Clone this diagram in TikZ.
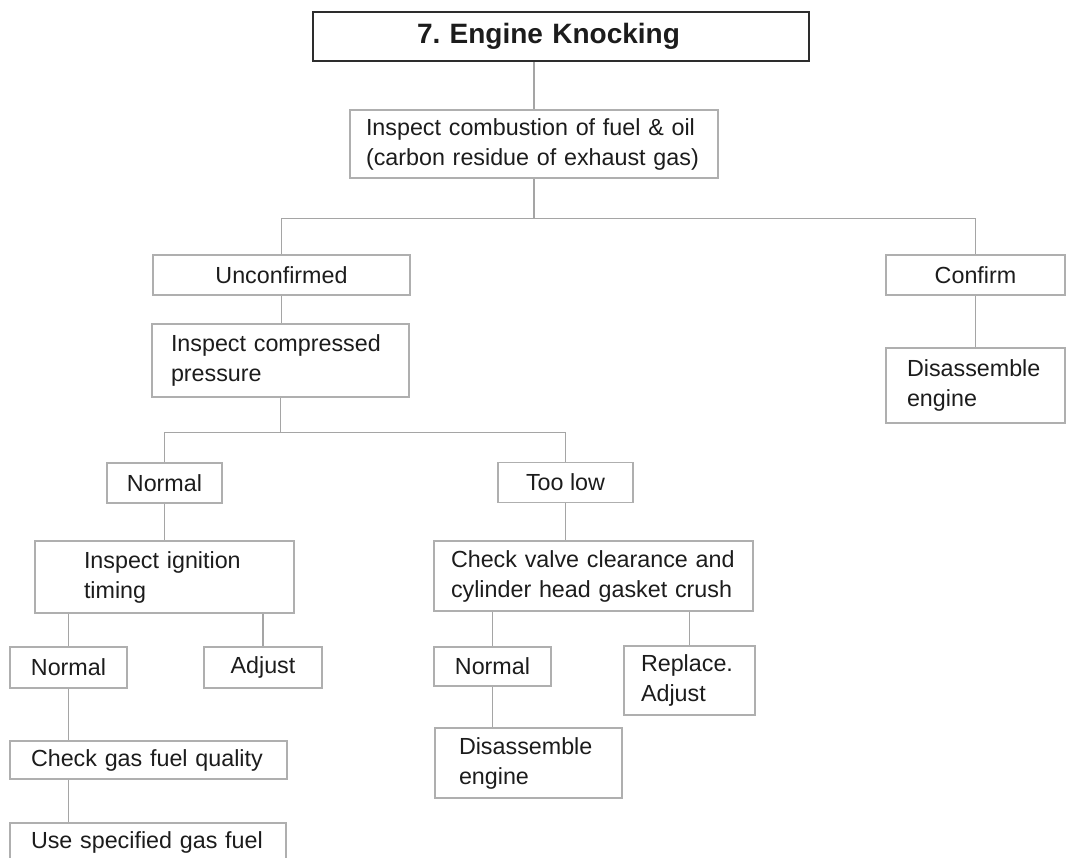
\documentclass[tikz,border=0pt]{standalone}
\usepackage{fontspec}
\setmainfont{Liberation Sans}
\usetikzlibrary{positioning}
\definecolor{BoxGray}{RGB}{175,175,175}
\definecolor{LineGray}{RGB}{165,165,165}
\definecolor{TitleGray}{RGB}{45,45,45}
\definecolor{TextGray}{RGB}{28,28,28}
\frenchspacing

\begin{document}
\begin{tikzpicture}[x=1pt, y=-1pt,
    box/.style={draw=BoxGray, line width=1.3pt, text=TextGray, inner ysep=0pt, font=\fontsize{23.3}{30}\selectfont},
    cbox/.style={box, align=center, inner xsep=0pt},
    lbox/.style 2 args={box, align=left, inner xsep=#1, text width=#2},
    link/.style={draw=LineGray, line width=1.3pt}]
          \useasboundingbox (0,0) rectangle (1069,858);
          \clip (0,0) rectangle (1069,858);
          \node[lbox={104pt}{288pt}, draw=TitleGray, line width=2.5pt, minimum height=49pt, font=\fontsize{28}{32}\selectfont\bfseries] (title) at (561,36.5) {7. Engine Knocking};
          \node[lbox={16pt}{336pt}, minimum height=68pt] (comb) at (534,144) {Inspect combustion of fuel \& oil\\(carbon residue of exhaust gas)};
          \node[cbox, minimum width=257pt, minimum height=40pt] (unconf) at (281.5,275) {Unconfirmed};
          \node[cbox, minimum width=179pt, minimum height=40pt] (confirm) at (975.5,275) {Confirm};
          \node[lbox={21pt}{137pt}, minimum height=75pt] (disR) at (975.5,385.5) {Disassemble\\engine};
          \node[lbox={19pt}{219pt}, minimum height=73pt] (press) at (280.5,360.5) {Inspect compressed\\pressure};
          \node[cbox, minimum width=115pt, minimum height=40pt] (normB) at (164.5,483) {Normal};
          \node[cbox, minimum width=135pt, minimum height=40pt] (toolow) at (565.5,482.5) {Too low};
          \node[lbox={49pt}{161pt}, minimum height=72pt] (ign) at (164.5,577) {Inspect ignition\\timing};
          \node[cbox, minimum width=117pt, minimum height=41pt] (normA) at (68.5,667.5) {Normal};
          \node[cbox, minimum width=118pt, minimum height=41pt] (adj) at (263,667.5) {Adjust};
          \node[lbox={21pt}{235pt}, minimum height=38pt] (gas) at (148.5,760) {Check gas fuel quality};
          \node[lbox={21pt}{234pt}, minimum height=38pt] (use) at (148,842) {Use specified gas fuel};
          \node[lbox={17pt}{285pt}, minimum height=70pt] (valve) at (593.5,576) {Check valve clearance and\\cylinder head gasket crush};
          \node[cbox, minimum width=117pt, minimum height=39pt] (normM) at (492.5,666.5) {Normal};
          \node[lbox={17pt}{97pt}, minimum height=69pt] (repl) at (689.5,680.5) {Replace.\\Adjust};
          \node[lbox={24pt}{139pt}, minimum height=70pt] (disM) at (528.5,763) {Disassemble\\engine};
          \draw[link] (title.south -| comb.north) -- (comb.north);
          \draw[link] (comb.south) -- ++(0,40) coordinate (j1);
          \draw[link] (unconf.north) |- (j1) -| (confirm.north);
          \draw[link] (confirm.south) -- (disR.north);
          \draw[link] (unconf.south) -- (unconf.south |- press.north);
          \draw[link] (press.south) -- ++(0,35) coordinate (j2);
          \draw[link] (normB.north) |- (j2) -| (toolow.north);
          \draw[link] (normB.south) -- (normB.south |- ign.north);
          \draw[link] (normA.north |- ign.south) -- (normA.north);
          \draw[link] (adj.north |- ign.south) -- (adj.north);
          \draw[link] (normA.south) -- (normA.south |- gas.north);
          \draw[link] (gas.south -| normA.south) -- (use.north -| normA.south);
          \draw[link] (toolow.south) -- (toolow.south |- valve.north);
          \draw[link] (normM.north |- valve.south) -- (normM.north);
          \draw[link] (repl.north |- valve.south) -- (repl.north);
          \draw[link] (normM.south) -- (normM.south |- disM.north);
        \end{tikzpicture}
\end{document}
